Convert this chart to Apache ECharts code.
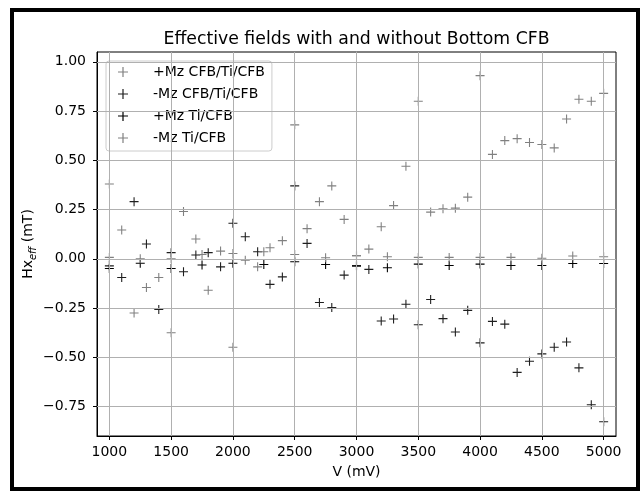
<!DOCTYPE html>
<html>
<head>
<meta charset="utf-8">
<script src="https://cdn.jsdelivr.net/npm/echarts@6/dist/echarts.min.js"></script>
<style>
html,body{margin:0;padding:0;background:#fff;}
#chart{width:642px;height:493px;}
</style>
</head>
<body>
<div id="chart"></div>
<script>
// V (mV) steps of the CFB/Ti/CFB runs
var voltsCFB = [1000,1100,1200,1300,1400,1500,1600,1700,1800,1900,
	2000,2100,2200,2300,2400,2500,2600,2700,2800,2900,
	3000,3100,3200,3300,3400,3500,3600,3700,3800,3900,
	4000,4100,4200,4300,4400,4500,4600,4700,4800,4900,5000];
var plusMzCFB = [0.38,0.146,-0.275,-0.146,-0.095,-0.376,0.24,0.10,-0.16,0.039,
	-0.449,-0.007,-0.041,0.056,0.092,0.68,0.153,0.29,0.37,0.20,
	0.015,0.049,0.163,0.27,0.47,0.80,0.237,0.254,0.257,0.313,
	0.93,0.53,0.60,0.61,0.59,0.58,0.563,0.71,0.81,0.80,0.84];
var minusMzCFB = [-0.036,-0.095,0.29,0.075,-0.257,0.031,-0.066,0.019,0.031,-0.041,
	0.18,0.112,0.036,-0.13,-0.092,0.37,0.078,-0.222,-0.248,-0.083,
	-0.036,-0.054,-0.316,-0.306,-0.231,-0.335,-0.207,-0.304,-0.372,-0.262,
	-0.427,-0.318,-0.332,-0.577,-0.52,-0.483,-0.449,-0.423,-0.554,-0.741,-0.828];

// V (mV) steps of the Ti/CFB runs
var voltsTi = [1000,1250,1500,1750,2000,2250,2500,2750,3000,3250,3500,3750,4000,4250,4500,4750,5000];
var plusMzTi = [-0.049,-0.023,-0.049,-0.032,-0.023,-0.029,-0.015,-0.029,-0.036,-0.046,-0.027,-0.034,-0.027,-0.034,-0.034,-0.024,-0.024];
var minusMzTi = [0.007,0.0,0.0,0.022,0.027,0.036,0.022,0.005,0.015,0.01,0.007,0.007,0.007,0.007,0.003,0.014,0.01];

var seriesNames = ['+Mz CFB/Ti/CFB','-Mz CFB/Ti/CFB','+Mz Ti/CFB','-Mz Ti/CFB'];

// tick positions
var xTicks = [1000,1500,2000,2500,3000,3500,4000,4500,5000];
var yTicks = [-0.75,-0.5,-0.25,0,0.25,0.5,0.75,1.0];

var plusMark = 'path://M0,4.4H10V5.6H0ZM4.4,0H5.6V10H4.4Z';

function pairs(xs, ys){
	var out = [];
	for(var i=0;i<xs.length;i++){
		out.push([xs[i], ys[i]]);
	}
	return out;
}

function scatter(name, xs, ys, color){
	return {
		name: name,
		type: 'scatter',
		z: 3,
		symbol: plusMark,
		symbolSize: 9,
		itemStyle: {color: color, opacity: 1},
		data: pairs(xs, ys)
	};
}

// grid lines, drawn as mark lines at the tick values
var gridLines = [];
for(var i=0;i<xTicks.length;i++){ gridLines.push({xAxis: xTicks[i]}); }
for(var j=0;j<yTicks.length;j++){ gridLines.push({yAxis: yTicks[j]}); }

var chart = echarts.init(document.getElementById('chart'));
chart.setOption({
	animation: false,
	textStyle: {fontFamily: 'DejaVu Sans'},
	title: {
		text: 'Effective fields with and without Bottom CFB',
		left: 356.5,
		textAlign: 'center',
		top: 31,
		padding: 0,
		textStyle: {fontSize: 17.3, fontWeight: 'normal', color: '#000', fontFamily: 'DejaVu Sans'}
	},
	grid: {left: 97, right: 26, top: 52, bottom: 57, show: true, borderColor: '#000', borderWidth: 1},
	legend: {
		data: seriesNames,
		orient: 'vertical',
		left: 106,
		top: 61,
		padding: [4, 7, 6, 12],
		itemWidth: 10,
		itemHeight: 10,
		itemGap: 8,
		backgroundColor: 'rgba(255,255,255,0.8)',
		borderColor: '#cccccc',
		borderWidth: 1,
		borderRadius: 3,
		textStyle: {fontSize: 14, lineHeight: 14, color: '#000', fontFamily: 'DejaVu Sans', padding: [0, 0, 0, 20]}
	},
	xAxis: {
		type: 'value',
		min: 900,
		max: 5100,
		name: 'V (mV)',
		nameLocation: 'middle',
		nameGap: 29,
		nameMoveOverlap: false,
		nameTextStyle: {fontSize: 14, color: '#000'},
		axisLine: {onZero: false, lineStyle: {color: '#000'}},
		axisTick: {show: true, length: 4, customValues: xTicks, lineStyle: {color: '#000'}},
		axisLabel: {
			fontSize: 14, color: '#000', margin: 9, customValues: xTicks,
			formatter: function(v){ return String(v); }
		},
		splitLine: {show: false}
	},
	yAxis: {
		type: 'value',
		min: -0.9,
		max: 1.05,
		name: '{a|Hx}{b|eff}{a| (mT)}',
		nameLocation: 'middle',
		nameGap: 59,
		nameMoveOverlap: false,
		nameTextStyle: {
			rich: {
				a: {fontSize: 14, color: '#000', lineHeight: 20, verticalAlign: 'middle', fontFamily: 'DejaVu Sans'},
				b: {fontSize: 10, color: '#000', fontStyle: 'italic', lineHeight: 10, verticalAlign: 'bottom', fontFamily: 'DejaVu Sans'}
			}
		},
		axisLine: {onZero: false, lineStyle: {color: '#000'}},
		axisTick: {show: true, length: 4, customValues: yTicks, lineStyle: {color: '#000'}},
		axisLabel: {
			fontSize: 14, color: '#000', margin: 11, customValues: yTicks,
			formatter: function(v){ return v.toFixed(2).replace('-', '\u2212'); }
		},
		splitLine: {show: false}
	},
	graphic: [{
		type: 'rect',
		silent: true,
		shape: {x: 12, y: 10, width: 626, height: 479},
		style: {fill: 'none', stroke: '#000', lineWidth: 4}
	}],
	series: [
		{
			type: 'scatter',
			z: 1,
			silent: true,
			data: [],
			markLine: {
				silent: true,
				symbol: 'none',
				label: {show: false},
				animation: false,
				lineStyle: {color: '#b0b0b0', width: 1, type: 'solid'},
				emphasis: {disabled: true},
				data: gridLines
			}
		},
		scatter(seriesNames[0], voltsCFB, plusMzCFB, '#808080'),
		scatter(seriesNames[1], voltsCFB, minusMzCFB, '#1e1e1e'),
		scatter(seriesNames[2], voltsTi, plusMzTi, '#000000'),
		scatter(seriesNames[3], voltsTi, minusMzTi, '#808080')
	]
});
</script>
</body>
</html>
